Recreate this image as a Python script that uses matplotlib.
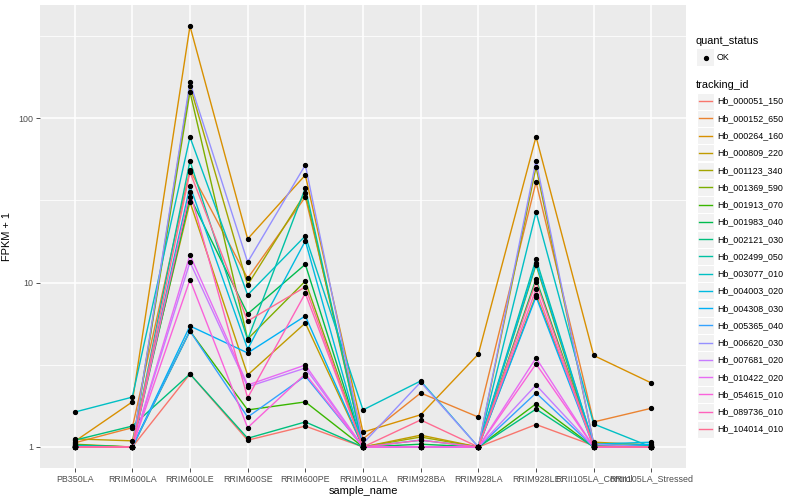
import matplotlib
matplotlib.use("Agg")
import matplotlib.pyplot as plt
from matplotlib.patches import Rectangle
import numpy as np

plt.rcParams['font.family'] = ['Liberation Sans', 'DejaVu Sans']

samples = ["PB350LA", "RRIM600LA", "RRIM600LE", "RRIM600SE", "RRIM600PE",
           "RRIM901LA", "RRIM928BA", "RRIM928LA", "RRIM928LE",
           "RRII105LA_Control", "RRII105LA_Stressed"]

tracking_ids = ["Hb_000051_150", "Hb_000152_650", "Hb_000264_160", "Hb_000809_220",
                "Hb_001123_340", "Hb_001369_590", "Hb_001913_070", "Hb_001983_040",
                "Hb_002121_030", "Hb_002499_050", "Hb_003077_010", "Hb_004003_020",
                "Hb_004308_030", "Hb_005365_040", "Hb_006620_030", "Hb_007681_020",
                "Hb_010422_020", "Hb_054615_010", "Hb_089736_010", "Hb_104014_010"]

hue_colors = ["#F8766D", "#EA8331", "#D89000", "#C09B00", "#A3A500", "#7CAE00",
              "#39B600", "#00BB4E", "#00BF7D", "#00C1A3", "#00BFC4", "#00BAE0",
              "#00B0F6", "#35A2FF", "#9590FF", "#C77CFF", "#E76BF3", "#FA62DB",
              "#FF62BC", "#FF6C91"]

# FPKM + 1 per sample (order of `samples`)
hb_000051_150 = [1.02, 1.00, 2.78, 1.10, 1.34, 1.00, 1.00, 1.00, 1.37, 1.02, 1.00]
hb_000152_650 = [1.06, 1.31, 48.3, 10.6, 33.1, 1.12, 2.13, 1.52, 40.8, 1.42, 1.72]
hb_000264_160 = [1.08, 1.88, 362., 18.4, 45.0, 1.23, 1.57, 3.67, 77.0, 3.60, 2.45]
hb_000809_220 = [1.12, 1.09, 30.9, 2.74, 5.67, 1.00, 1.18, 1.00, 8.40, 1.07, 1.03]
hb_001123_340 = [1.04, 1.00, 157., 9.66, 35.0, 1.00, 1.15, 1.00, 50.4, 1.05, 1.00]
hb_001369_590 = [1.01, 1.00, 144., 4.53, 10.2, 1.00, 1.00, 1.00, 12.8, 1.00, 1.00]
hb_001913_070 = [1.00, 1.00, 5.07, 1.68, 1.88, 1.00, 1.00, 1.00, 1.83, 1.00, 1.00]
hb_001983_040 = [1.03, 1.00, 33.1, 6.44, 12.9, 1.00, 1.04, 1.00, 10.5, 1.02, 1.01]
hb_002121_030 = [1.10, 1.34, 2.78, 1.13, 1.42, 1.00, 1.00, 1.00, 1.70, 1.00, 1.00]
hb_002499_050 = [1.02, 1.00, 54.8, 4.50, 37.5, 1.00, 1.00, 1.00, 13.9, 1.03, 1.02]
hb_003077_010 = [1.63, 2.01, 76.6, 8.40, 19.2, 1.68, 2.52, 1.00, 26.8, 1.38, 1.00]
hb_004003_020 = [1.01, 1.00, 38.6, 3.94, 17.9, 1.00, 1.10, 1.00, 13.1, 1.04, 1.07]
hb_004308_030 = [1.00, 1.00, 5.44, 3.73, 6.26, 1.00, 1.00, 1.00, 8.20, 1.00, 1.04]
hb_005365_040 = [1.00, 1.00, 5.07, 1.52, 2.70, 1.00, 1.00, 1.00, 2.13, 1.00, 1.00]
hb_006620_030 = [1.00, 1.00, 165., 13.3, 51.8, 1.05, 2.48, 1.00, 55.0, 1.04, 1.00]
hb_007681_020 = [1.00, 1.00, 13.3, 2.32, 3.02, 1.00, 1.00, 1.00, 2.38, 1.00, 1.00]
hb_010422_020 = [1.00, 1.00, 14.7, 2.38, 3.15, 1.00, 1.00, 1.00, 3.48, 1.00, 1.00]
hb_054615_010 = [1.00, 1.00, 10.4, 1.31, 2.78, 1.00, 1.00, 1.00, 3.20, 1.00, 1.00]
hb_089736_010 = [1.00, 1.00, 35.5, 1.99, 8.60, 1.00, 1.10, 1.00, 9.10, 1.00, 1.00]
hb_104014_010 = [1.00, 1.00, 47.0, 5.83, 9.40, 1.00, 1.46, 1.00, 10.1, 1.01, 1.00]

series = [hb_000051_150, hb_000152_650, hb_000264_160, hb_000809_220, hb_001123_340,
          hb_001369_590, hb_001913_070, hb_001983_040, hb_002121_030, hb_002499_050,
          hb_003077_010, hb_004003_020, hb_004308_030, hb_005365_040, hb_006620_030,
          hb_007681_020, hb_010422_020, hb_054615_010, hb_089736_010, hb_104014_010]

W, H = 800, 500
fig = plt.figure(figsize=(8, 5), dpi=100)
fig.patch.set_facecolor("white")

pl, pr, pt, pb = 40, 686, 5, 468
ax = fig.add_axes([pl / W, 1 - pb / H, (pr - pl) / W, (pb - pt) / H])
ax.set_facecolor("#EBEBEB")
ax.set_yscale("log")
ax.set_xlim(-0.6, len(samples) - 1 + 0.6)
ax.set_ylim(10 ** (-21 / 164.5), 10 ** (442 / 164.5))

# grid
for lv in [10 ** 0.5, 10 ** 1.5, 10 ** 2.5]:
    ax.axhline(lv, color="white", lw=0.55, zorder=0.5)
for lv in [1, 10, 100]:
    ax.axhline(lv, color="white", lw=1.1, zorder=0.6)
for i in range(len(samples)):
    ax.axvline(i, color="white", lw=1.1, zorder=0.6)

x = np.arange(len(samples))
for vals, col in zip(series, hue_colors):
    ax.plot(x, vals, color=col, lw=1.0, zorder=2, solid_capstyle="butt")
for vals in series:
    ax.plot(x, vals, linestyle="none", marker="o", markersize=2.8,
            color="black", zorder=3)

for s in ax.spines.values():
    s.set_visible(False)
ax.set_xticks(x)
ax.set_xticklabels(samples, fontsize=6.4, color="#4D4D4D")
ax.set_yticks([1, 10, 100])
ax.set_yticklabels(["1", "10", "100"], fontsize=6.4, color="#4D4D4D")
ax.yaxis.set_minor_locator(matplotlib.ticker.NullLocator())
ax.tick_params(axis="both", length=2.7, width=0.6, color="#333333", pad=2)
ax.set_xlabel("sample_name", fontsize=7.9, labelpad=2)
ax.set_ylabel("FPKM + 1", fontsize=7.9, labelpad=5)

# legends drawn in pixel coordinates
lg = fig.add_axes([0, 0, 1, 1])
lg.set_xlim(0, W)
lg.set_ylim(H, 0)
lg.axis("off")
lg.patch.set_alpha(0)

kx, kw = 697, 17
lg.text(696, 41, "quant_status", fontsize=7.9, va="center", ha="left")
lg.add_patch(Rectangle((kx, 57.5 - kw / 2), kw, kw, facecolor="#F2F2F2", edgecolor="none"))
lg.plot([kx + kw / 2], [57.5], marker="o", markersize=2.8, color="black")
lg.text(717, 57.5, "OK", fontsize=6.4, va="center", ha="left")

lg.text(696, 85, "tracking_id", fontsize=7.9, va="center", ha="left")
y0, dy = 101.2, (429 - 101.2) / 19
for i, (tid, col) in enumerate(zip(tracking_ids, hue_colors)):
    yc = y0 + i * dy
    lg.add_patch(Rectangle((kx, yc - kw / 2), kw, kw, facecolor="#F2F2F2",
                           edgecolor="white", lw=0.8))
    lg.plot([kx + 2, kx + kw - 2], [yc, yc], color=col, lw=1.0)
    lg.text(717, yc, tid, fontsize=6.4, va="center", ha="left")

fig.savefig("out.png", dpi=100)
